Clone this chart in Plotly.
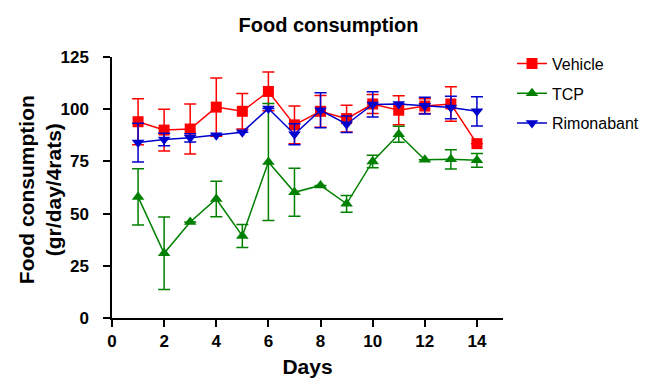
import plotly.graph_objects as go

days = list(range(1, 15))

vehicle = [94, 90, 90.5, 101, 99, 108.5, 92.5, 99, 95.5, 102.5, 99.5, 101.5, 102.5, 83.5]
vehicle_err = [11, 10, 12, 14, 8.5, 9.3, 9, 7.6, 6.4, 4.5, 7, 3.5, 8.3, 0]

tcp = [58, 31, 46, 57, 39.3, 74.7, 60.2, 63.5, 54.7, 75, 88, 75.8, 76, 75.5]
tcp_err = [13.5, 17.4, 0, 8.5, 5.5, 28, 11.5, 0, 4, 3, 3.8, 0, 4.6, 3.3]

rimonabant = [84, 85.5, 86.3, 87.5, 89, 100.3, 88, 99.5, 92.8, 102.3, 102.5, 101.7, 100.8, 99]
rimonabant_err = [9.3, 3, 2, 0, 0, 0, 5, 8.4, 4, 6, 0, 4, 5.4, 7]

x_ticks = [0, 2, 4, 6, 8, 10, 12, 14]
y_ticks = [0, 25, 50, 75, 100, 125]

series = [
    ("Vehicle", vehicle, vehicle_err, "#ff0000", "square"),
    ("TCP", tcp, tcp_err, "#008000", "triangle-up"),
    ("Rimonabant", rimonabant, rimonabant_err, "#0000cc", "triangle-down"),
]

fig = go.Figure()
for i, (name, vals, errs, color, sym) in enumerate(series):
    fig.add_trace(go.Scatter(
        x=days, y=vals, name=name, mode="lines+markers",
        legendgroup=f"g{i}",
        line=dict(color=color, width=1.5),
        marker=dict(symbol=sym, size=11, color=color),
        error_y=dict(type="data", array=errs, visible=True, color=color,
                     thickness=1.5, width=6),
    ))

font_family = "Liberation Sans, Arial, Helvetica, sans-serif"
axis_common = dict(
    showgrid=False, zeroline=False, showline=True, linecolor="black",
    linewidth=1.5, ticks="outside", ticklen=7, tickwidth=1.5,
    tickcolor="black", tickfont=dict(size=17, family=font_family),
    automargin=False,
)
fig.update_layout(
    width=641, height=370,
    margin=dict(l=104, r=146, t=49, b=60, autoexpand=False),
    paper_bgcolor="white", plot_bgcolor="white",
    font=dict(family=font_family, color="black"),
    title=dict(text="<b>Food consumption</b>", x=0.5, xref="container", xanchor="center",
               yref="container", y=0.955, yanchor="middle", font=dict(size=20)),
    showlegend=True,
    legend=dict(x=1.023, xanchor="left", y=1.04, yanchor="top",
                font=dict(size=16), tracegroupgap=6,
                bgcolor="rgba(0,0,0,0)"),
    xaxis=dict(range=[0, 15], tickvals=x_ticks,
               ticktext=[f"<b>{v}</b>" for v in x_ticks],
               title=dict(text="<b>Days</b>", font=dict(size=21), standoff=11),
               **axis_common),
    yaxis=dict(range=[0, 125], tickvals=y_ticks,
               ticktext=[f"<b>{v}</b>" for v in y_ticks],
               ticklabelstandoff=11,
               **axis_common),
    annotations=[dict(
        text="<b>Food consumption<br>(gr/day/4rats)</b>",
        xref="paper", yref="paper", x=-0.184, y=0.49,
        xanchor="center", yanchor="middle", textangle=-90,
        showarrow=False, font=dict(size=21),
    )],
)

fig.write_html("out.html")
